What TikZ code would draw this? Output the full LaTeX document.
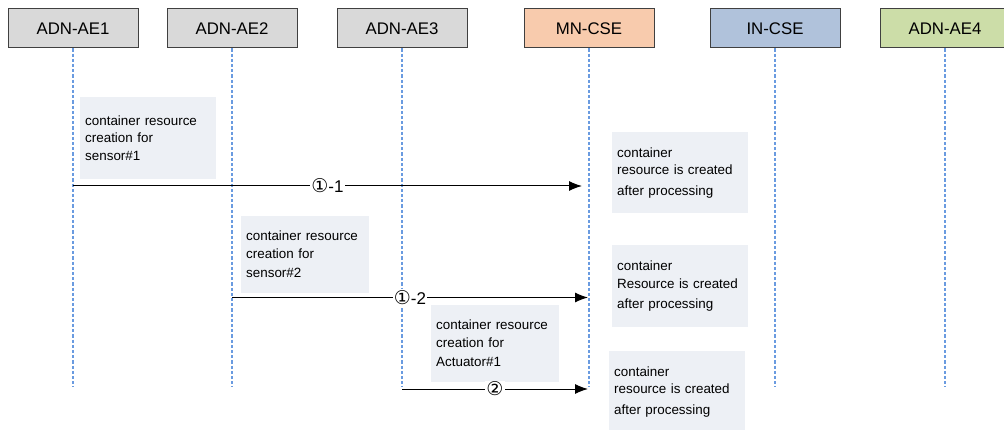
\documentclass[tikz,border=0pt]{standalone}
\usepackage{fontspec}
\setmainfont{Liberation Sans}
\newfontfamily\circfont{DejaVu Sans}
\usetikzlibrary{arrows.meta}
\definecolor{boxgray}{HTML}{D9D9D9}
\definecolor{boxorange}{HTML}{F8CBAD}
\definecolor{boxblue}{HTML}{B0C2DB}
\definecolor{boxgreen}{HTML}{CCDDA8}
\definecolor{notefill}{HTML}{EDF0F5}
\definecolor{lifeblue}{HTML}{6A9BE0}
\begin{document}
\begin{tikzpicture}[x=1pt,y=-1pt]
	\tikzset{>={Latex[length=13pt,width=10pt]}}
	\tikzset{party/.style={draw=black!75,line width=1pt,minimum width=130pt,minimum height=39pt,inner sep=0pt,font=\fontsize{16.8}{18}\selectfont}}
	\tikzset{lifeline/.style={lifeblue,line width=2.6pt,dash pattern=on 3.2pt off 2pt}}
	\tikzset{note/.style={fill=notefill,anchor=north west,inner xsep=5pt,inner ysep=0pt,align=left,font=\fontsize{13.4}{17.5}\selectfont}}
	\tikzset{msg/.style={->,line width=1pt}}
	\tikzset{msglabel/.style={fill=white,inner sep=1pt,font=\fontsize{17}{17}\selectfont}}
	\useasboundingbox (0,0) rectangle (1004,430);
	
	% participants
	\node[party,fill=boxgray] (ae1) at (73,28.5) {ADN-AE1};
	\node[party,fill=boxgray] (ae2) at (232,28.5) {ADN-AE2};
	\node[party,fill=boxgray] (ae3) at (402,28.5) {ADN-AE3};
	\node[party,fill=boxorange] (mn) at (589,28.5) {MN-CSE};
	\node[party,fill=boxblue] (in) at (775,28.5) {IN-CSE};
	\node[party,fill=boxgreen] (ae4) at (945,28.5) {ADN-AE4};
	
	% lifelines
	\foreach \p in {ae1,ae2,ae3,mn,in,ae4}
	{
		\coordinate (\p end) at (\p.south |- 0,387);
		\draw[lifeline] (\p.south) -- (\p end);
	}
	
	% notes
	\node[note,minimum height=82pt,text width=126pt] (n1) at (80,97) {container resource\\creation for\\sensor\#1};
	\node[note,minimum height=81pt,text width=126pt] (n2) at (612,132) {container\\resource is created\\[3pt]after processing};
	\node[note,minimum height=77pt,text width=118pt] (n3) at (241,216) {container resource\\creation for\\[2pt]sensor\#2};
	\node[note,minimum height=82pt,text width=126pt] (n4) at (612,245) {container\\Resource is created\\[3pt]after processing};
	\node[note,minimum height=77pt,text width=118pt] (n5) at (431,305) {container resource\\creation for\\[2pt]Actuator\#1};
	\node[note,minimum height=81pt,text width=126pt] (n6) at (609,351) {container\\resource is created\\[3pt]after processing};
	
	% messages
	\coordinate (m1a) at (73,186);
	\coordinate (m1b) at (582,186);
	\coordinate (m2a) at (232,297.5);
	\coordinate (m2b) at (588,297.5);
	\coordinate (m3a) at (402,389);
	\coordinate (m3b) at (588,389);
	
	\draw[msg] (m1a) -- (m1b) node[msglabel,pos=0.5] (l1) {{\circfont\fontsize{19}{19}\selectfont ①}-1};
	\draw[msg] (m2a) -- (m2b) node[msglabel,pos=0.5] (l2) {{\circfont\fontsize{19}{19}\selectfont ①}-2};
	\draw[msg] (m3a) -- (m3b) node[msglabel,pos=0.5] (l3) {{\circfont\fontsize{19}{19}\selectfont ②}};
	
\end{tikzpicture}
\end{document}
